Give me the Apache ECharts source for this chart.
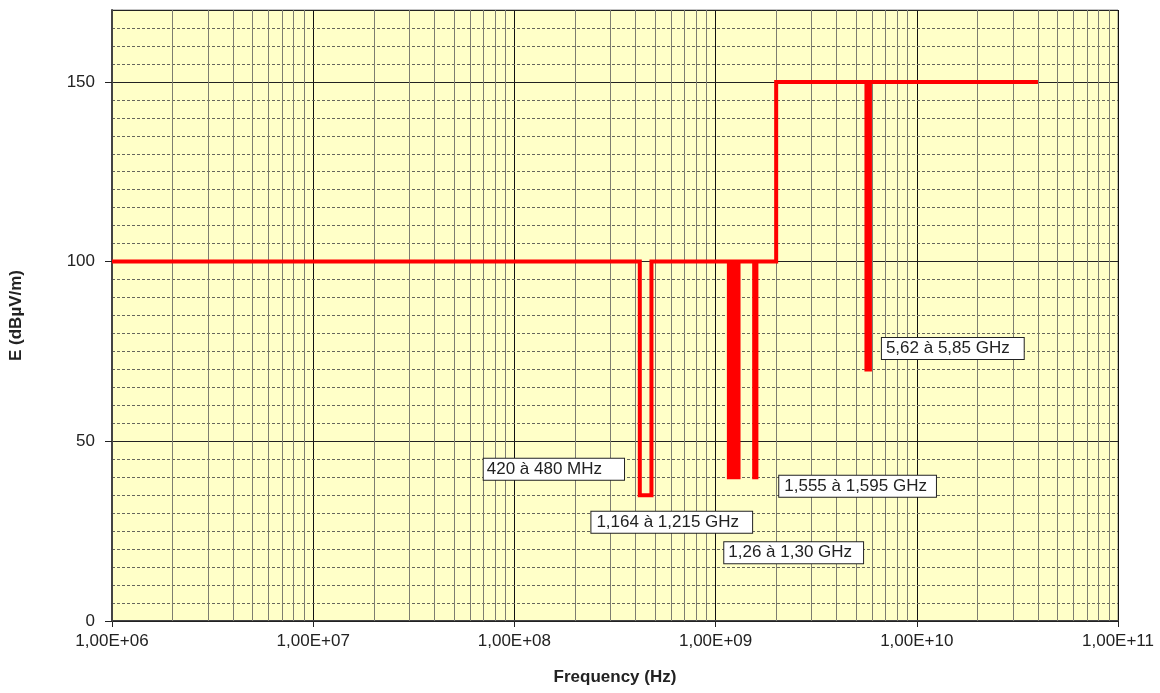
<!DOCTYPE html>
<html>
<head>
<meta charset="utf-8">
<script src="https://cdn.jsdelivr.net/npm/echarts@6/dist/echarts.min.js"></script>
<style>
html,body{margin:0;padding:0;background:#fff;}
#chart{width:1160px;height:693px;}
</style>
</head>
<body>
<div id="chart"></div>
<script>
// Frequency break points (Hz) and the level (dBµV/m) that applies from each break to the next
const breakFreqs = [1e6, 4.2e8, 4.8e8, 1.164e9, 1.215e9, 1.26e9, 1.30e9, 1.555e9, 1.595e9, 2e9, 5.62e9, 5.85e9, 4e10];
const levels     = [100, 35, 100, 40, 100, 40, 100, 40, 100, 150, 70, 150];

// Annotation texts and their anchor (left-middle of box) in data coordinates
const noteTexts  = ['420 à 480 MHz', '1,164 à 1,215 GHz', '1,26 à 1,30 GHz', '1,555 à 1,595 GHz', '5,62 à 5,85 GHz'];
const noteFreqs  = [7.0e7, 2.40e8, 1.098e9, 2.06e9, 6.67e9];
const noteLevels = [42.2, 27.5, 19.0, 37.5, 75.8];

// Axis settings
const xMin = 1e6, xMax = 1e11;
const yMin = 0, yMax = 170, yMajor = 50, yMinor = 5;

// build stepped polyline points
const pts = [];
for (let i = 0; i < breakFreqs.length; i++) {
  if (i > 0) pts.push([breakFreqs[i], levels[i - 1]]);
  if (i < levels.length) pts.push([breakFreqs[i], levels[i]]);
}

// minor vertical grid lines 2..9 per decade
const minorX = [];
for (let d = 6; d < 11; d++) for (let k = 2; k <= 9; k++) minorX.push(k * Math.pow(10, d));

const notePadRight = [22, 13, 11, 9, 14];
const notePadLeft  = [3, 5, 4, 5, 4];

const FONT = '"Liberation Sans", Arial, sans-serif';

const chart = echarts.init(document.getElementById('chart'), null, {renderer: 'canvas'});
chart.setOption({
  animation: false,
  backgroundColor: '#ffffff',
  grid: {
    left: 110, right: 42, top: 10, bottom: 72,
    show: true, backgroundColor: '#FFFFC8', borderColor: '#8a8a8a', borderWidth: 1
  },
  xAxis: {
    type: 'log', logBase: 10, min: xMin, max: xMax,
    name: 'Frequency (Hz)', nameLocation: 'middle', nameGap: 48,
    nameTextStyle: {fontFamily: FONT, fontSize: 17, fontWeight: 'bold', color: '#222'},
    axisLine: {show: true, onZero: false, lineStyle: {color: '#444', width: 2}},
    axisTick: {show: true, inside: false, length: 6, lineStyle: {color: '#222', width: 1}},
    axisLabel: {
      fontFamily: FONT, fontSize: 17, color: '#222', margin: 12,
      formatter: v => {
        const s = v.toExponential(2).replace('.', ',');
        const parts = s.split('e');
        const sign = parts[1][0] === '-' ? '-' : '+';
        const ex = parts[1].replace(/^[+-]/, '');
        return parts[0] + 'E' + sign + ex.padStart(2, '0');
      }
    },
    splitLine: {show: true, lineStyle: {color: '#111', width: 1}},
    minorTick: {show: false}, minorSplitLine: {show: false}
  },
  yAxis: [
    {
      type: 'value', min: yMin, max: yMax, interval: yMajor, position: 'left', z: 3,
      name: 'E (dBµV/m)', nameLocation: 'middle', nameGap: 87, nameRotate: 90,
      nameTextStyle: {fontFamily: FONT, fontSize: 17, fontWeight: 'bold', color: '#222'},
      axisLine: {show: true, lineStyle: {color: '#444', width: 2}},
      axisTick: {show: true, inside: false, length: 7, lineStyle: {color: '#222'}},
      axisLabel: {fontFamily: FONT, fontSize: 17, color: '#222', margin: 17, showMaxLabel: false,
        formatter: v => (v % yMajor === 0 ? String(v) : '')},
      splitLine: {show: true, lineStyle: {color: '#222', width: 1}}
    },
    {
      type: 'value', min: yMin, max: yMax, interval: yMinor, position: 'left', z: 1,
      axisLine: {show: false}, axisTick: {show: false}, axisLabel: {show: false},
      splitLine: {show: true, lineStyle: {color: '#66665c', width: 1, type: [3, 2]}}
    }
  ],
  series: [
    {
      type: 'line', data: [], z: 2, silent: true,
      markLine: {
        silent: true, symbol: 'none', animation: false,
        label: {show: false},
        lineStyle: {color: '#7d7d70', width: 1, type: 'solid'},
        emphasis: {disabled: true},
        data: minorX.map(v => ({xAxis: v}))
      }
    },
    {
      type: 'line', data: pts, z: 5, silent: true,
      showSymbol: false, symbol: 'none',
      lineStyle: {color: '#FF0000', width: 4, join: 'miter', cap: 'butt'},
      markPoint: {
        silent: true, animation: false,
        symbol: 'rect', symbolSize: 1,
        itemStyle: {color: 'rgba(0,0,0,0)'},
        data: noteTexts.map((t, i) => ({
          name: t, coord: [noteFreqs[i], noteLevels[i]],
          label: {
            show: true, position: 'right', distance: 0, formatter: '{b}',
            fontFamily: FONT, fontSize: 17, color: '#222', lineHeight: 18,
            backgroundColor: '#ffffff', borderColor: '#222', borderWidth: 1,
            padding: [2, notePadRight[i], 1, notePadLeft[i]]
          }
        }))
      }
    }
  ]
});
</script>
</body>
</html>
